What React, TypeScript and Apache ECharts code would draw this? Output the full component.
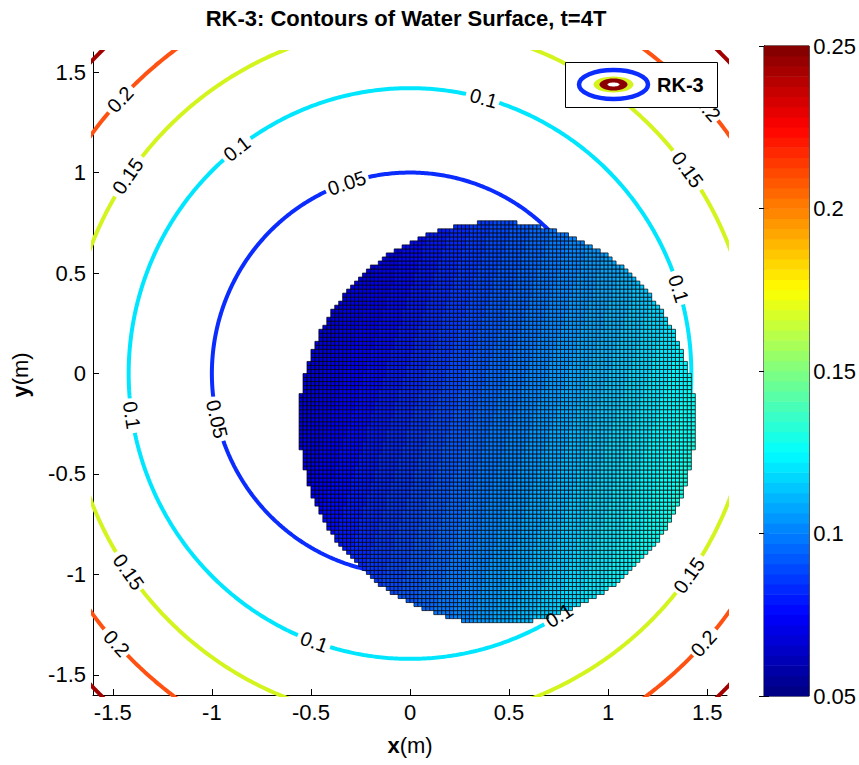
import React, { useEffect, useRef } from 'react';
import * as echarts from 'echarts';

// ---------- data ----------
const TITLE = 'RK-3: Contours of Water Surface, t=4T';
const xTicks = [-1.5, -1, -0.5, 0, 0.5, 1, 1.5];
const yTicks = [-1.5, -1, -0.5, 0, 0.5, 1, 1.5];
const colorbarTicks = [0.05, 0.1, 0.15, 0.2, 0.25];

const contourLevels = [0.05, 0.1, 0.15, 0.2, 0.25];
const contourRadii = [1.0, 1.42, 1.73, 2.0, 2.236];
const contourColors = ['#0a2cff', '#00e6ff', '#d4f41e', '#ff5212', '#a30000'];

// contour labels: level and polar angle (deg) where they sit
const labelLevels = [0.2, 0.15, 0.1, 0.05, 0.1, 0.2, 0.15, 0.1, 0.1, 0.05, 0.15, 0.2, 0.1, 0.1, 0.15, 0.2];
const labelAngles = [137, 145.4, 128, 108.6, 74.8, 41.3, 35.9, 17.3, 188.4, 193.1, 214.8, 222.2, 250.1, 302.0, 324.5, 317.8];

// wet disc drawn as cells
const discCenter = [0.44, -0.245];
const discRadius = 1.0;
const cellSize = 0.02;
// water-surface samples [x, y, eta] (planar surface)
const surfaceSamples = [
  [-0.4, 0.4, 0.066],
  [1.35, -0.2, 0.125],
  [0.3, -1.15, 0.102],
];

const CMIN = 0.05;
const CMAX = 0.25;
const FONT = '"Liberation Sans", Arial, Helvetica, sans-serif';

// ---------- helpers ----------
function clamp01(v: number) {
  return Math.max(0, Math.min(1, v));
}
function jetIndexColor(i: number) {
  const t = (i + 0.5) / 64;
  const r = clamp01(Math.min(4 * t - 1.5, -4 * t + 4.5));
  const g = clamp01(Math.min(4 * t - 0.5, -4 * t + 3.5));
  const b = clamp01(Math.min(4 * t + 0.5, -4 * t + 2.5));
  return `rgb(${Math.round(r * 255)},${Math.round(g * 255)},${Math.round(b * 255)})`;
}
function jet(v: number) {
  const f = clamp01((v - CMIN) / (CMAX - CMIN));
  return jetIndexColor(Math.min(63, Math.floor(f * 64)));
}

function solvePlane(s: number[][]) {
  const [[x1, y1, z1], [x2, y2, z2], [x3, y3, z3]] = s;
  const det = (a: number[][]) =>
    a[0][0] * (a[1][1] * a[2][2] - a[1][2] * a[2][1]) -
    a[0][1] * (a[1][0] * a[2][2] - a[1][2] * a[2][0]) +
    a[0][2] * (a[1][0] * a[2][1] - a[1][1] * a[2][0]);
  const M = [[1, x1, y1], [1, x2, y2], [1, x3, y3]];
  const D = det(M);
  const Z = [z1, z2, z3];
  const col = (k: number) => M.map((row, i) => row.map((v, j) => (j === k ? Z[i] : v)));
  return [det(col(0)) / D, det(col(1)) / D, det(col(2)) / D];
}

function buildCells() {
  const [a, b, c] = solvePlane(surfaceSamples);
  const [cx, cy] = discCenter;
  const out: number[][] = [];
  const i0 = Math.floor((cx - discRadius) / cellSize) - 1;
  const i1 = Math.ceil((cx + discRadius) / cellSize) + 1;
  const j0 = Math.floor((cy - discRadius) / cellSize) - 1;
  const j1 = Math.ceil((cy + discRadius) / cellSize) + 1;
  for (let i = i0; i <= i1; i++) {
    for (let j = j0; j <= j1; j++) {
      const x = (i + 0.5) * cellSize;
      const y = (j + 0.5) * cellSize;
      if ((x - cx) ** 2 + (y - cy) ** 2 <= discRadius * discRadius) {
        out.push([x, y, a + b * x + c * y]);
      }
    }
  }
  return out;
}

const LABEL_FS = 20;
const PX_PER_UNIT = 199;
function labelText(l: number) {
  return String(l);
}
function textWidth(s: string) {
  let w = 0;
  for (const ch of s) w += ch === '.' ? 0.278 : 0.556;
  return w * LABEL_FS;
}

function buildContourSeries() {
  const series: any[] = [];
  contourLevels.forEach((lvl, k) => {
    const r = contourRadii[k];
    const gaps: [number, number][] = [];
    labelLevels.forEach((l, n) => {
      if (l === lvl) {
        const half = ((textWidth(labelText(l)) / 2 + 2) / (r * PX_PER_UNIT)) * (180 / Math.PI);
        gaps.push([labelAngles[n], half]);
      }
    });
    const inGap = (a: number) =>
      gaps.some(([g, h]) => {
        const d = Math.abs(((a - g) % 360 + 540) % 360 - 180);
        return d < h;
      });
    const start = gaps.length ? gaps[0][0] : 0;
    const arcs: number[][][] = [];
    let cur: number[][] = [];
    for (let s = 0; s <= 720; s++) {
      const a = start + s * 0.5;
      if (gaps.length && inGap(a)) {
        if (cur.length > 1) arcs.push(cur);
        cur = [];
      } else {
        const rad = (a * Math.PI) / 180;
        cur.push([r * Math.cos(rad), r * Math.sin(rad)]);
      }
    }
    if (cur.length > 1) arcs.push(cur);
    arcs.forEach((arc) => {
      series.push({
        type: 'line',
        xAxisIndex: 0,
        yAxisIndex: 0,
        data: arc,
        showSymbol: false,
        symbol: 'none',
        clip: true,
        silent: true,
        z: 2,
        lineStyle: { color: contourColors[k], width: 4 },
      });
    });
  });
  return series;
}

function buildLabelData() {
  return labelLevels.map((l, n) => {
    const k = contourLevels.indexOf(l);
    const r = contourRadii[k];
    const a = labelAngles[n];
    const rad = (a * Math.PI) / 180;
    let rot = a - 90;
    while (rot > 90) rot -= 180;
    while (rot <= -90) rot += 180;
    return {
      value: [r * Math.cos(rad), r * Math.sin(rad)],
      name: labelText(l),
      label: { rotate: rot },
    };
  });
}

function buildOption() {
  const cells = buildCells();
  const half = cellSize / 2;
  const bands = Array.from({ length: 64 }, (_, i) => [i]);
  const axisFont = { fontSize: 22, color: '#000', fontFamily: FONT };

  return {
    animation: false,
    backgroundColor: '#fff',
    grid: [
      { left: 93, top: 52, width: 634, height: 643 },
      { left: 764, top: 46, width: 47, height: 650, show: true, borderColor: '#000', borderWidth: 1, backgroundColor: 'transparent' },
    ],
    xAxis: [
      {
        type: 'value', gridIndex: 0, min: -1.6, max: 1.6,
        axisLine: { show: true, onZero: false, lineStyle: { color: '#000', width: 1 } },
        axisTick: { show: true, inside: true, length: 6, customValues: xTicks, lineStyle: { color: '#000' } },
        axisLabel: { ...axisFont, margin: 6, customValues: xTicks, formatter: (v: number) => String(v) },
        splitLine: { show: false },
      },
      { type: 'value', gridIndex: 1, min: 0, max: 1, show: false },
    ],
    yAxis: [
      {
        type: 'value', gridIndex: 0, min: -1.6, max: 1.6,
        axisLine: { show: true, onZero: false, lineStyle: { color: '#000', width: 1 } },
        axisTick: { show: true, inside: true, length: 6, customValues: yTicks, lineStyle: { color: '#000' } },
        axisLabel: { ...axisFont, margin: 7, customValues: yTicks, formatter: (v: number) => String(v) },
        splitLine: { show: false },
      },
      {
        type: 'value', gridIndex: 1, min: CMIN, max: CMAX, interval: 0.05, position: 'right',
        axisLine: { show: true, lineStyle: { color: '#000' } },
        axisTick: { show: true, inside: true, length: 5, customValues: colorbarTicks, lineStyle: { color: '#000' } },
        axisLabel: { ...axisFont, margin: 4, customValues: colorbarTicks, formatter: (v: number) => String(Math.round(v * 100) / 100) },
        splitLine: { show: false },
      },
      {
        type: 'value', gridIndex: 1, min: CMIN, max: CMAX, interval: 0.05, position: 'left',
        axisLine: { show: true, lineStyle: { color: '#000' } },
        axisTick: { show: true, inside: true, length: 5, customValues: colorbarTicks, lineStyle: { color: '#000' } },
        axisLabel: { show: false },
        splitLine: { show: false },
      },
    ],
    series: [
      ...buildContourSeries(),
      {
        type: 'custom',
        xAxisIndex: 0,
        yAxisIndex: 0,
        data: cells,
        progressive: 0,
        silent: true,
        z: 3,
        encode: { x: 0, y: 1 },
        renderItem: (_p: any, api: any) => {
          const x = api.value(0);
          const y = api.value(1);
          const v = api.value(2);
          const p0 = api.coord([x - half, y + half]);
          const p1 = api.coord([x + half, y - half]);
          return {
            type: 'rect',
            shape: { x: p0[0], y: p0[1], width: p1[0] - p0[0], height: p1[1] - p0[1] },
            style: { fill: jet(v), stroke: '#000', lineWidth: 0.7 },
          };
        },
      },
      {
        type: 'scatter',
        xAxisIndex: 0,
        yAxisIndex: 0,
        data: buildLabelData(),
        symbolSize: 1,
        itemStyle: { color: 'rgba(0,0,0,0)' },
        silent: true,
        z: 5,
        labelLayout: { hideOverlap: false },
        label: {
          show: true,
          position: 'inside',
          formatter: '{b}',
          fontSize: LABEL_FS,
          color: '#000',
          opacity: 1,
          fontFamily: FONT,
        },
      },
      {
        type: 'custom',
        xAxisIndex: 1,
        yAxisIndex: 1,
        data: bands,
        progressive: 0,
        silent: true,
        z: 1,
        renderItem: (_p: any, api: any) => {
          const i = api.value(0);
          const lo = CMIN + ((CMAX - CMIN) * i) / 64;
          const hi = CMIN + ((CMAX - CMIN) * (i + 1)) / 64;
          const p0 = api.coord([0, hi]);
          const p1 = api.coord([1, lo]);
          return {
            type: 'rect',
            shape: { x: p0[0], y: p0[1] - 0.3, width: p1[0] - p0[0], height: p1[1] - p0[1] + 0.6 },
            style: { fill: jetIndexColor(i) },
          };
        },
      },
    ],
    graphic: [
      {
        type: 'text', x: 406, y: 18, z: 100,
        style: { text: TITLE, font: `bold 22px ${FONT}`, fill: '#000', align: 'center', verticalAlign: 'middle' },
      },
      {
        type: 'text', x: 410, y: 745, z: 100,
        style: {
          text: '{b|x}{n|(m)}', align: 'center', verticalAlign: 'middle', fill: '#000',
          rich: {
            b: { fontWeight: 'bold', fontSize: 22, fontFamily: FONT, fill: '#000' },
            n: { fontSize: 22, fontFamily: FONT, fill: '#000' },
          },
        },
      },
      {
        type: 'text', x: 20, y: 375, rotation: Math.PI / 2, z: 100,
        style: {
          text: '{b|y}{n|(m)}', align: 'center', verticalAlign: 'middle', fill: '#000',
          rich: {
            b: { fontWeight: 'bold', fontSize: 22, fontFamily: FONT, fill: '#000' },
            n: { fontSize: 22, fontFamily: FONT, fill: '#000' },
          },
        },
      },
      {
        type: 'group', z: 100,
        children: [
          { type: 'rect', z: 100, shape: { x: 565.5, y: 62.5, width: 152, height: 45 }, style: { fill: '#fff', stroke: '#000', lineWidth: 1 } },
          { type: 'ellipse', z: 101, shape: { cx: 613.5, cy: 84.5, rx: 34.5, ry: 14.5 }, style: { fill: 'none', stroke: '#0a2cff', lineWidth: 4.5 } },
          { type: 'ellipse', z: 101, shape: { cx: 613.5, cy: 84.5, rx: 20, ry: 8 }, style: { fill: '#d4f41e' } },
          { type: 'ellipse', z: 102, shape: { cx: 613.5, cy: 84.5, rx: 14, ry: 6 }, style: { fill: '#8b0000' } },
          { type: 'ellipse', z: 103, shape: { cx: 613.5, cy: 84.5, rx: 6, ry: 2 }, style: { fill: '#fff' } },
          { type: 'text', z: 101, x: 657, y: 85, style: { text: 'RK-3', font: `bold 20px ${FONT}`, fill: '#000', align: 'left', verticalAlign: 'middle' } },
        ],
      },
    ],
  };
}

export default function App() {
  const ref = useRef<HTMLDivElement>(null);
  useEffect(() => {
    if (!ref.current) return;
    const chart = echarts.init(ref.current, null, { renderer: 'svg' });
    chart.setOption(buildOption() as any);
    return () => chart.dispose();
  }, []);
  return (
    <div
      ref={ref}
      style={{ position: 'absolute', left: 0, top: 0, width: 859, height: 765, background: '#fff' }}
    />
  );
}
